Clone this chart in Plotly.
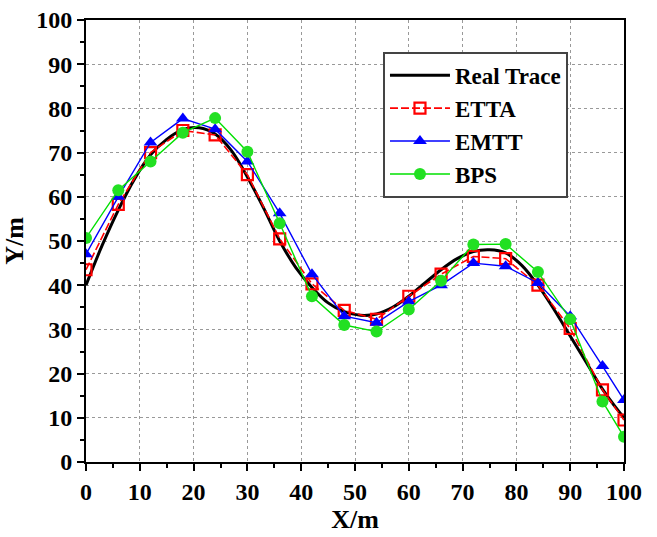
import plotly.graph_objects as go

# Real trace
real_x = [0, 3, 6, 9, 12, 15, 18, 21, 24, 27, 30, 33, 36, 39, 42, 45, 48, 51, 54, 57,
          60, 63, 66, 69, 72, 75, 78, 81, 84, 87, 90, 93, 96, 99, 100]
real_y = [40, 49, 57, 64, 69.5, 73, 75.2, 75.6, 74.2, 70.5, 64.5, 57.5, 50, 44, 39.5, 36, 34, 33.2, 33.5, 35,
          37.5, 40.5, 43.5, 46, 47.6, 48, 47.3, 44.5, 40, 34.5, 28.5, 22.5, 16.5, 11.5, 10]

# Sampled estimates
sample_x = [0, 6, 12, 18, 24, 30, 36, 42, 48, 54, 60, 66, 72, 78, 84, 90, 96, 100]
etta_y = [43.5, 58.3, 70, 75, 74, 65, 50.5, 40.3, 34.3, 32.3, 37.5, 42.5, 46.5, 46, 40, 30.2, 16.3, 9.5]
emtt_y = [47, 60, 72.3, 77.7, 75.3, 68, 56.3, 42.5, 33, 31.5, 36.3, 40, 45, 44.3, 40.5, 33, 21.7, 14]
bps_y = [50.7, 61.5, 68, 74.5, 77.8, 70.2, 54, 37.5, 31, 29.5, 34.5, 41, 49.2, 49.3, 43, 32.3, 13.7, 5.7]

x_ticks = list(range(0, 101, 10))
y_ticks = list(range(0, 101, 10))

fig = go.Figure()
fig.add_trace(go.Scatter(x=real_x, y=real_y, mode="lines", name="Real Trace",
                         line=dict(color="black", width=3, shape="spline")))
fig.add_trace(go.Scatter(x=sample_x, y=etta_y, mode="lines+markers", name="ETTA",
                         line=dict(color="#ff0000", width=1.6, dash="8px,3px"),
                         marker=dict(symbol="square-open", size=11, color="#ff0000",
                                     line=dict(width=2.2, color="#ff0000"))))
fig.add_trace(go.Scatter(x=sample_x, y=emtt_y, mode="lines+markers", name="EMTT",
                         line=dict(color="#0000ff", width=1.4),
                         marker=dict(symbol="triangle-up", size=12, color="#0000ff")))
fig.add_trace(go.Scatter(x=sample_x, y=bps_y, mode="lines+markers", name="BPS",
                         line=dict(color="#00e000", width=1.4),
                         marker=dict(symbol="circle", size=12, color="#22e022")))

fig.update_layout(
    template="none",
    width=657, height=537,
    margin=dict(l=86, r=33, t=20, b=75),
    paper_bgcolor="white", plot_bgcolor="white",
    font=dict(family="DejaVu Serif", size=30, color="black"),
    showlegend=True,
    legend=dict(x=0.552, y=0.928, xanchor="left", yanchor="top",
                bgcolor="white", bordercolor="#444444", borderwidth=2,
                font=dict(family="Liberation Serif, serif", size=23, color="black", weight="bold"),
                itemwidth=60, tracegroupgap=2),
)
fig.update_xaxes(
    range=[0, 100], tickvals=x_ticks,
    showline=True, mirror=True, linecolor="black", linewidth=2,
    ticks="outside", ticklen=7, tickwidth=2, tickcolor="black",
    showgrid=True, gridcolor="#999999", gridwidth=1, griddash="3px,3px",
    zeroline=False, tickfont=dict(family="Liberation Serif, serif", size=24, color="black", weight="bold"),
    minor=dict(ticks="outside", ticklen=4, tickwidth=1.5, tickcolor="black", dtick=5, showgrid=False),
    title=dict(text="X/m", font=dict(family="Liberation Serif", size=26, color="black", weight="bold"), standoff=2),
)
fig.update_yaxes(
    range=[0, 100], tickvals=y_ticks,
    showline=True, mirror=True, linecolor="black", linewidth=2,
    ticks="outside", ticklen=7, tickwidth=2, tickcolor="black",
    showgrid=True, gridcolor="#999999", gridwidth=1, griddash="3px,3px",
    zeroline=False, tickfont=dict(family="Liberation Serif, serif", size=24, color="black", weight="bold"),
    minor=dict(ticks="outside", ticklen=4, tickwidth=1.5, tickcolor="black", dtick=5, showgrid=False),
    title=dict(text="Y/m", font=dict(family="Liberation Serif", size=26, color="black", weight="bold"), standoff=6),
)

fig.write_html("out.html")
